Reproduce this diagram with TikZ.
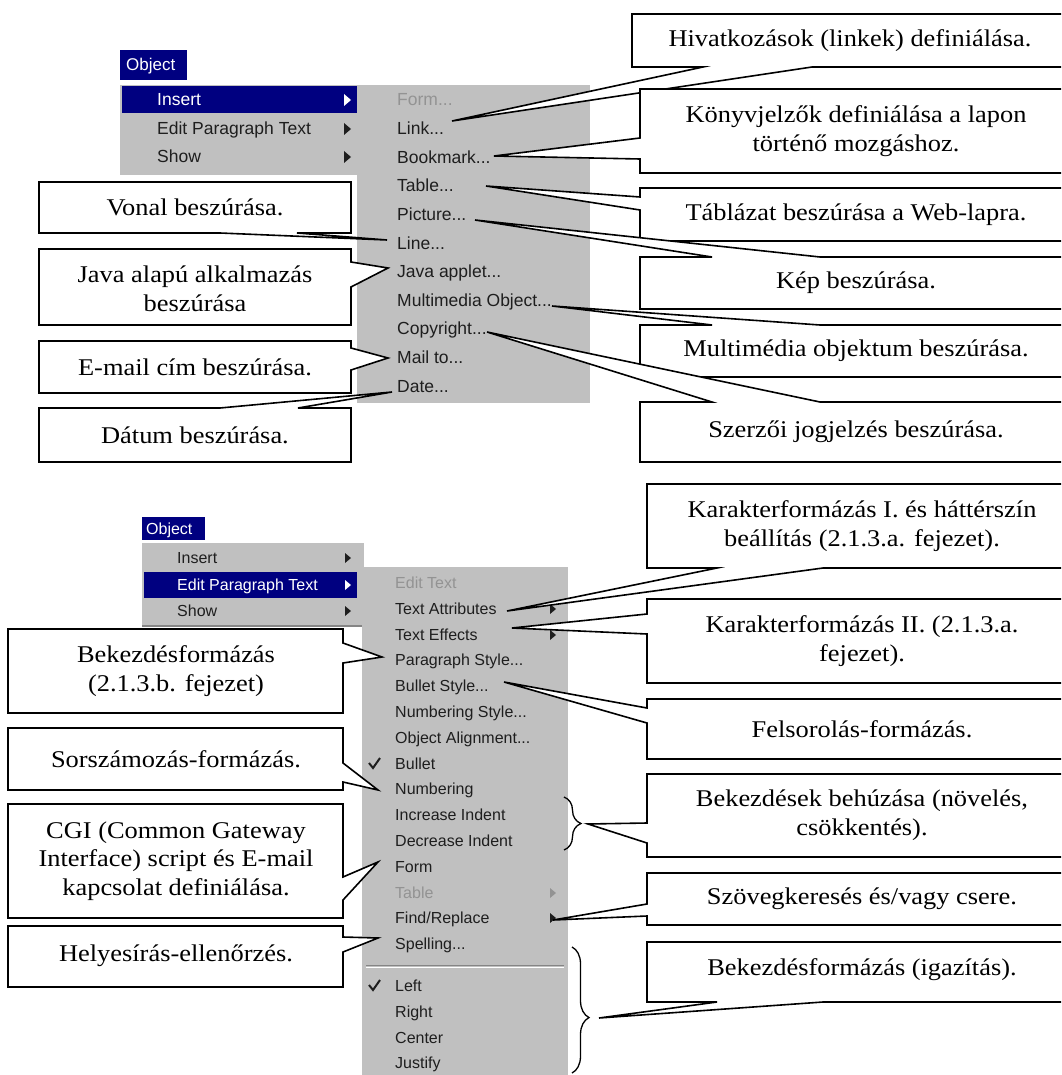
\documentclass[tikz,border=0pt]{standalone}
\usepackage{fontspec}
\usetikzlibrary{decorations.pathreplacing}
\newfontfamily\calfont[FakeStretch=1.1]{Liberation Serif}
\newfontfamily\menufont{Liberation Sans}
\definecolor{menubg}{HTML}{C0C0C0}
\definecolor{menublue}{HTML}{000080}
\definecolor{menutext}{HTML}{1E1E1E}
\definecolor{menudis}{HTML}{939393}
\definecolor{menusep}{HTML}{858585}
% callout outlines: L T R B (base1) (base2) tip
\newcommand\wedgeL[7]{\draw[callout] (#1,#2) -- (#3,#2) -- (#3,#4) -- (#1,#4) -- (#1,#6) -- (#7) -- (#1,#5) -- cycle;}
\newcommand\wedgeR[7]{\draw[callout] (#1,#2) -- (#3,#2) -- (#3,#5) -- (#7) -- (#3,#6) -- (#3,#4) -- (#1,#4) -- cycle;}
\newcommand\wedgeT[7]{\draw[callout] (#1,#2) -- (#5,#2) -- (#7) -- (#6,#2) -- (#3,#2) -- (#3,#4) -- (#1,#4) -- cycle;}
\newcommand\wedgeB[7]{\draw[callout] (#1,#2) -- (#3,#2) -- (#3,#4) -- (#6,#4) -- (#7) -- (#5,#4) -- (#1,#4) -- cycle;}
\tikzset{
  callout/.style={draw=black, fill=white, line width=1.6pt, line join=miter},
  ctext/.style={font=\calfont\fontsize{24}{28.5}\selectfont, align=center, inner sep=0pt},
  mitem/.style={font=\menufont\fontsize{16}{18}\selectfont, anchor=base west, inner sep=0pt, text=menutext},
  mitemA/.style={mitem, font=\menufont\fontsize{17.5}{20}\selectfont},
  mdis/.style={mitem, text=menudis},
  mdisA/.style={mitemA, text=menudis},
  mhi/.style={mitem, text=white},
  mhiA/.style={mitemA, text=white},
  mtitle/.style={font=\menufont\fontsize{16}{18}\selectfont, anchor=base west, inner sep=0pt, text=white},
  subarrow/.style={fill=menutext},
  bracestyle/.style={decorate, decoration={brace, amplitude=17pt}, line width=1.3pt},
}
\begin{document}
\begin{tikzpicture}[x=1pt, y=-1pt]
\useasboundingbox (0,0) rectangle (1061,1075);
\clip (0,0) rectangle (1061,1075);
\fill[white] (0,0) rectangle (1061,1075);

% ================= TOP MENUS =================
\fill[menublue] (120,50) rectangle (187,80);
\node[mtitle, font=\menufont\fontsize{17}{19}\selectfont] (objA) at (126,71) {Object};
\fill[menubg] (120,85) rectangle (357,175);
\fill[menublue] (122,86) rectangle (357,113);
\node[mhiA] (insA) at (157,106) {Insert};
\node[mitemA] (editA) at (157,135) {Edit Paragraph Text};
\node[mitemA] (showA) at (157,163) {Show};
\fill[white] (344,94) -- (351,100) -- (344,106) -- cycle;
\fill[subarrow] (344,123) -- (351,129) -- (344,135) -- cycle;
\fill[subarrow] (344,151) -- (351,157) -- (344,163) -- cycle;

\fill[menubg] (357,85) rectangle (590,403);
\node[mdisA]  (sFormA) at (397,106) {Form...};
\node[mitemA] (sLink)  at (397,134.6) {Link...};
\node[mitemA] (sBook)  at (397,163.2) {Bookmark...};
\node[mitemA] (sTab)   at (397,191.8) {Table...};
\node[mitemA] (sPic)   at (397,220.4) {Picture...};
\node[mitemA] (sLine)  at (397,249) {Line...};
\node[mitemA] (sJava)  at (397,277.6) {Java applet...};
\node[mitemA] (sMulti) at (397,306.2) {Multimedia Object...};
\node[mitemA] (sCopy)  at (397,334.8) {Copyright...};
\node[mitemA] (sMail)  at (397,363.4) {Mail to...};
\node[mitemA] (sDate)  at (397,392) {Date...};

% ================= BOTTOM MENUS =================
\fill[menublue] (142,517) rectangle (205,540);
\node[mtitle] (objB) at (146,534.5) {Object};
\fill[menubg] (142,543) rectangle (364,627);
\draw[menusep, line width=1.2pt] (142,626) -- (362,626);
\fill[menublue] (144,572) rectangle (357,598);
\node[mitem] (insB)  at (177,563.5) {Insert};
\node[mhi]   (editB) at (177,590.5) {Edit Paragraph Text};
\node[mitem] (showB) at (177,616.5) {Show};
\fill[subarrow] (345,553) -- (351,558) -- (345,563) -- cycle;
\fill[white]    (345,580) -- (351,585) -- (345,590) -- cycle;
\fill[subarrow] (345,606) -- (351,611) -- (345,616) -- cycle;

\fill[menubg] (362,567) rectangle (568,1080);
\node[mdis]  (bEditT) at (395,588.5) {Edit Text};
\node[mitem] (bAttr)  at (395,614.3) {Text Attributes};
\node[mitem] (bEff)   at (395,640.1) {Text Effects};
\node[mitem] (bPara)  at (395,665.9) {Paragraph Style...};
\node[mitem] (bBulS)  at (395,691.7) {Bullet Style...};
\node[mitem] (bNumS)  at (395,717.5) {Numbering Style...};
\node[mitem] (bObjA)  at (395,743.3) {Object Alignment...};
\node[mitem] (bBul)   at (395,769.1) {Bullet};
\node[mitem] (bNum)   at (395,794.9) {Numbering};
\node[mitem] (bInc)   at (395,820.7) {Increase Indent};
\node[mitem] (bDec)   at (395,846.5) {Decrease Indent};
\node[mitem] (bForm)  at (395,872.3) {Form};
\node[mdis]  (bTab)   at (395,898.1) {Table};
\node[mitem] (bFind)  at (395,923.9) {Find/Replace};
\node[mitem] (bSpell) at (395,949.7) {Spelling...};
\draw[menusep, line width=1pt] (366,965.5) -- (564,965.5);
\draw[white, line width=1pt] (366,967) -- (564,967);
\node[mitem] (bLeft)  at (395,991.5) {Left};
\node[mitem] (bRight) at (395,1017.5) {Right};
\node[mitem] (bCent)  at (395,1043) {Center};
\node[mitem] (bJust)  at (395,1068) {Justify};
\fill[subarrow] (550,604) -- (556,609) -- (550,614) -- cycle;
\fill[subarrow] (550,630) -- (556,635) -- (550,640) -- cycle;
\fill[menudis]  (550,888) -- (556,893) -- (550,898) -- cycle;
\fill[subarrow] (550,913) -- (556,918) -- (550,923) -- cycle;
\draw[menutext, line width=2pt] (369,763) -- (373,768) -- (380,758);
\draw[menutext, line width=2pt] (369,985) -- (373,990) -- (380,980);

% braces
\draw[bracestyle] (564,797) -- (564,850);
\draw[bracestyle, decoration={aspect=0.56}] (572,947) -- (572,1073);

% ================= TIP COORDINATES =================
\coordinate (tLine)  at (387,240);
\coordinate (tJava)  at (388,268);
\coordinate (tMail)  at (388,358);
\coordinate (tDate)  at (392,392);
\coordinate (tLink)  at (452,121);
\coordinate (tBook)  at (494,156);
\coordinate (tTable) at (486,186);
\coordinate (tPict)  at (475,220);
\coordinate (tMulti) at (552,306);
\coordinate (tCopy)  at (487,332);
\coordinate (tAttr)  at (507,611);
\coordinate (tEff)   at (512,628);
\coordinate (tBullet) at (504,682);
\coordinate (tBrA)   at (588,824);
\coordinate (tFind)  at (553,920);
\coordinate (tBrB)   at (599,1018);
\coordinate (tPara)  at (382,657);
\coordinate (tNum)   at (378,790);
\coordinate (tForm)  at (378,862);
\coordinate (tSpell) at (378,938);

% ================= CALLOUTS: top right =================
\wedgeB{632}{14}{1075}{67}{703}{812}{tLink}
\node[ctext] (cHiv) at (850,40.5) {Hivatkozások (linkek) definiálása.};
\wedgeL{640}{89}{1075}{173}{138}{159}{tBook}
\node[ctext] (cKonyv) at (856,131) {Könyvjelzők definiálása a lapon\\történő mozgáshoz.};
\wedgeL{640}{188}{1075}{241}{197}{210}{tTable}
\node[ctext] (cTabl) at (856,214.5) {Táblázat beszúrása a Web-lapra.};
\wedgeT{640}{257}{1075}{309}{712}{820}{tPict}
\node[ctext] (cKep) at (856,283) {Kép beszúrása.};
\wedgeT{640}{325}{1075}{377}{712}{820}{tMulti}
\node[ctext] (cMulti) at (856,351) {Multimédia objektum beszúrása.};
\wedgeT{640}{402}{1075}{462}{712}{820}{tCopy}
\node[ctext] (cSzerz) at (856,432) {Szerzői jogjelzés beszúrása.};

% ================= CALLOUTS: top left =================
\wedgeB{39}{182}{351}{233}{220}{297}{tLine}
\node[ctext] (cVonal) at (195,207.5) {Vonal beszúrása.};
\wedgeR{39}{249}{351}{325}{262}{287}{tJava}
\node[ctext] (cJava) at (195,289) {Java alapú alkalmazás\\beszúrása};
\wedgeR{39}{341}{351}{393}{348}{370}{tMail}
\node[ctext] (cMail) at (195,367) {E-mail cím beszúrása.};
\wedgeT{39}{408}{351}{462}{220}{298}{tDate}
\node[ctext] (cDatum) at (195,435) {Dátum beszúrása.};

% ================= CALLOUTS: bottom left =================
\wedgeR{8}{629}{343}{713}{643}{663}{tPara}
\node[ctext] (cBekA) at (176,671) {Bekezdésformázás\\(2.1.3.b. fejezet)};
\wedgeR{8}{728}{343}{790}{763}{782}{tNum}
\node[ctext] (cSorsz) at (176,759) {Sorszámozás-formázás.};
\wedgeR{8}{804}{343}{918}{877}{900}{tForm}
\node[ctext] (cCGI) at (176,861) {CGI (Common Gateway\\Interface) script és E-mail\\kapcsolat definiálása.};
\wedgeR{8}{926}{343}{987}{937}{952}{tSpell}
\node[ctext] (cHely) at (176,956) {Helyesírás-ellenőrzés.};

% ================= CALLOUTS: bottom right =================
\wedgeB{647}{484}{1075}{568}{717}{823}{tAttr}
\node[ctext] (cKarI) at (862,526) {Karakterformázás I. és háttérszín\\beállítás (2.1.3.a. fejezet).};
\wedgeL{647}{599}{1075}{683}{614}{634}{tEff}
\node[ctext] (cKarII) at (862,641) {Karakterformázás II. (2.1.3.a.\\fejezet).};
\wedgeL{647}{699}{1075}{759}{708}{723}{tBullet}
\node[ctext] (cFels) at (862,729) {Felsorolás-formázás.};
\wedgeL{647}{774}{1075}{857}{823}{843}{tBrA}
\node[ctext] (cBehuz) at (862,815) {Bekezdések behúzása (növelés,\\csökkentés).};
\wedgeL{647}{873}{1075}{925}{904}{916}{tFind}
\node[ctext] (cKeres) at (862,899) {Szövegkeresés és/vagy csere.};
\wedgeB{647}{942}{1075}{1002}{717}{823}{tBrB}
\node[ctext] (cIgaz) at (862,970) {Bekezdésformázás (igazítás).};
\end{tikzpicture}
\end{document}
